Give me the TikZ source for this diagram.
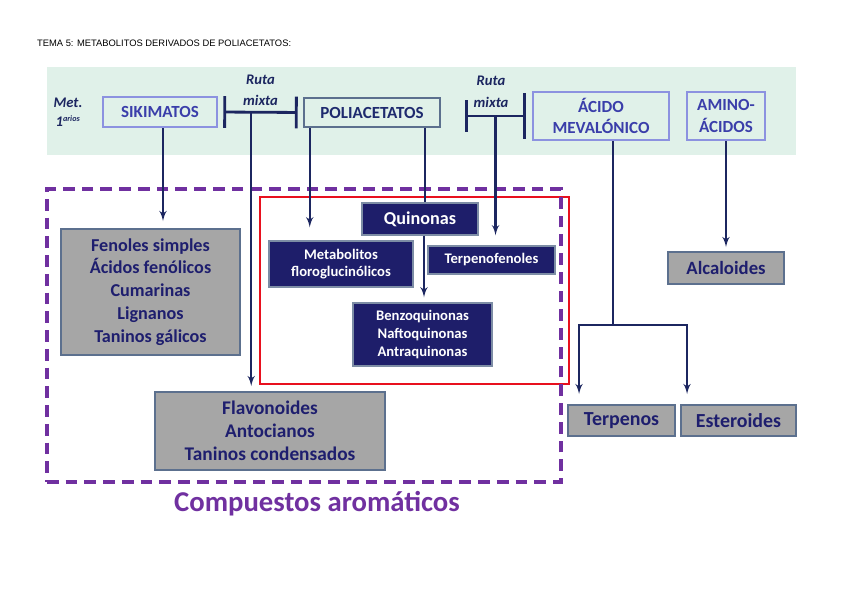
\documentclass[tikz,border=0pt]{standalone}
\usepackage{fontspec}
\setmainfont{Carlito}
\newfontfamily\titlefont{Liberation Sans}
\usepackage{tikz}
\usetikzlibrary{arrows,arrows.meta,positioning}
\definecolor{mint}{RGB}{224,241,233}
\definecolor{navyln}{RGB}{28,38,96}
\definecolor{peri}{RGB}{140,146,224}
\definecolor{perit}{RGB}{58,62,170}
\definecolor{polit}{RGB}{30,42,110}
\definecolor{gris}{RGB}{166,166,166}
\definecolor{slate}{RGB}{92,112,142}
\definecolor{navytx}{RGB}{30,30,110}
\definecolor{navybox}{RGB}{30,30,106}
\definecolor{morado}{RGB}{112,48,160}
\definecolor{rojo}{RGB}{232,16,30}
\tikzstyle{line} = [draw, navyln, line width=2pt, -latex']
\tikzstyle{link} = [draw, navyln, line width=2pt]
\tikzstyle{ruta} = [draw, navyln, line width=2.4pt]
\tikzstyle{prim} = [rectangle, draw=peri, line width=2.2pt, fill=mint, text=perit, align=center, inner sep=0pt, font=\bfseries\fontsize{14.5}{18}\selectfont]
\tikzstyle{grisbox} = [rectangle, draw=slate, line width=1.6pt, fill=gris, text=navytx, align=center, inner sep=0pt, font=\bfseries\fontsize{15.5}{19.5}\selectfont]
\tikzstyle{azulbox} = [rectangle, draw=slate!80, line width=1.2pt, fill=navybox, text=white, align=center, inner sep=0pt, font=\bfseries\fontsize{12.5}{15}\selectfont]
\tikzstyle{etiq} = [text=navyln, align=center, font=\bfseries\itshape\fontsize{12.5}{18}\selectfont]

\begin{document}
\begin{tikzpicture}[x=0.03cm, y=-0.03cm]
			\useasboundingbox (0,0) rectangle (848,599);
			\node [anchor=west, font=\titlefont\fontsize{8}{10}\selectfont] (tema) at (33,43) {TEMA 5: METABOLITOS DERIVADOS DE POLIACETATOS:};
			\fill [mint] (47,67) rectangle (796,155);
			\node [etiq, font=\bfseries\itshape\fontsize{12.5}{16}\selectfont] (met) at (68,112) {Met.\\1\textsuperscript{\fontsize{7}{7}\selectfont arios}};
			
			% metabolitos primarios
			\node [prim, minimum width=3.42cm, minimum height=0.9cm] (sik) at (160,112) {SIKIMATOS};
			\node [prim, draw=slate, text=polit, minimum width=4.08cm, minimum height=0.87cm] (pol) at (372,112.5) {POLIACETATOS};
			\node [prim, minimum width=4.08cm, minimum height=1.44cm] (aci) at (601,116) {ÁCIDO\\MEVALÓNICO};
			\node [prim, minimum width=2.34cm, minimum height=1.44cm] (ami) at (726,116) {AMINO-\\ÁCIDOS};
			
			% marcos
			\draw [rojo, line width=2pt] (260,197) rectangle (569,384);
			\node [draw=morado, line width=3pt, dash pattern=on 10pt off 6pt, minimum width=15.42cm, minimum height=8.79cm, inner sep=0pt] (aro) at (304,335.5) {};
			\node [below=3pt of aro.south, xshift=0.39cm, text=morado, font=\bfseries\fontsize{24.5}{26}\selectfont] (arotxt) {Compuestos aromáticos};
			
			% productos
			\node [grisbox, minimum width=5.37cm, minimum height=3.78cm] (fen) at (150.5,292) {Fenoles simples\\Ácidos fenólicos\\Cumarinas\\Lignanos\\Taninos gálicos};
			\node [grisbox, minimum width=6.9cm, minimum height=2.34cm, font=\bfseries\fontsize{16.5}{19.5}\selectfont] (fla) at (270,431) {Flavonoides\\Antocianos\\Taninos condensados};
			\node [azulbox, minimum width=3.48cm, minimum height=0.96cm, font=\bfseries\fontsize{15.5}{18}\selectfont] (qui) at (420,219) {Quinonas};
			\node [azulbox, minimum width=4.32cm, minimum height=1.38cm] (flo) at (341,264) {Metabolitos\\floroglucinólicos};
			\node [azulbox, minimum width=3.81cm, minimum height=0.84cm] (tpf) at (491.5,260) {Terpenofenoles};
			\node [azulbox, minimum width=4.17cm, minimum height=1.89cm] (ben) at (422.5,334.5) {Benzoquinonas\\Naftoquinonas\\Antraquinonas};
			\node [grisbox, minimum width=3.48cm, minimum height=0.96cm, font=\bfseries\fontsize{16}{17}\selectfont] (alc) at (726,268) {Alcaloides};
			\node [grisbox, minimum width=3.21cm, minimum height=0.93cm, font=\bfseries\fontsize{17}{17}\selectfont] (ter) at (621.5,420.5) {Terpenos};
			\node [grisbox, minimum width=3.45cm, minimum height=0.93cm, font=\bfseries\fontsize{17}{17}\selectfont] (est) at (738.5,420.5) {Esteroides};
			
			% rutas mixtas
			\draw [ruta, {Bar[width=27pt]}-{Bar[width=27pt]}, shorten <=0.15cm, shorten >=0.15cm] (sik.east) -- (pol.west) coordinate[pos=0.39] (mx1) node [etiq, midway, above=1pt] {Ruta\\mixta};
			\draw [ruta, {Bar[width=27pt]}-{Bar[width=39pt]}, shorten <=0.72cm, shorten >=0.18cm] (pol.east |- aci.west) -- (aci.west) coordinate[pos=0.6] (mx2) node [etiq, pos=0.55, above=3pt] {Ruta\\mixta};
			
			% flechas
			\draw [line, shorten >=0.21cm] ([xshift=0.09cm]sik.south) -- ([xshift=0.09cm]sik.south |- fen.north);
			\draw [line, shorten >=0.15cm] (mx1) -- (mx1 |- fla.north);
			\draw [line, shorten >=0.39cm] ([xshift=0.21cm]pol.south west) -- ([xshift=0.21cm]pol.south west |- flo.north);
			\draw [link] ([xshift=-0.48cm]pol.south east) -- ([xshift=-0.48cm]pol.south east |- qui.north);
			\draw [line, shorten >=0.3cm] (mx2) -- (mx2 |- tpf.north);
			\draw [line, shorten >=0.15cm] ([xshift=0.12cm]qui.south) -- ([xshift=0.12cm]qui.south |- ben.north);
			\coordinate (split) at (613,325);
			\draw [link] (aci.south -| split) -- (split);
			\draw [line, shorten >=0.3cm] (split) -| ([xshift=0.36cm]ter.north west);
			\draw [line, shorten >=0.3cm] (split) -| ([xshift=0.21cm]est.north west);
			\draw [line, shorten >=0.12cm] (ami.south) -- (alc.north);
		\end{tikzpicture}
\end{document}
